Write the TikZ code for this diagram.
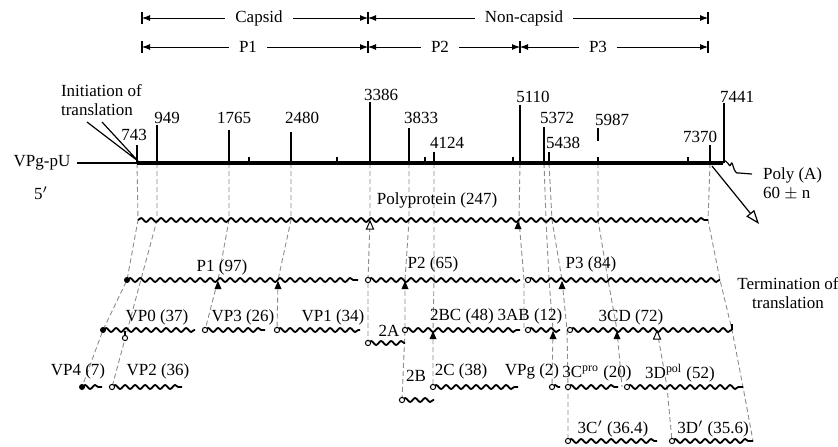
\documentclass[tikz,border=0pt]{standalone}
\usepackage{fontspec}
\setmainfont{Liberation Serif}
\usetikzlibrary{arrows.meta,decorations.pathmorphing}

\begin{document}
\begin{tikzpicture}[x=0.5pt,y=-0.5pt,
    font=\fontsize{8.5}{9.5}\selectfont,
    genoma/.style={line width=2pt},
    fino/.style={line width=0.6pt},
    prot/.style={line width=0.9pt, decorate, decoration={snake, amplitude=1pt, segment length=5pt}},
    corte/.style={black!45, line width=0.45pt, dash pattern=on 2.5pt off 1.5pt},
    cota/.style={line width=0.45pt, {Latex[length=4pt,width=3pt]}-{Latex[length=4pt,width=3pt]}},
    rotulo/.style={fill=white, inner xsep=5pt, inner ysep=1pt},
    aberto/.pic={\draw[fill=white, line width=0.5pt] (0,0) circle (1.3pt);},
    cheio/.pic={\fill (0,0) circle (1.5pt);},
    trifill/.pic={\fill (0,1) -- (-3.5,9) -- (3.5,9) -- cycle;},
    triopen/.pic={\draw[fill=white, line width=0.5pt] (0,1) -- (-3.5,9) -- (3.5,9) -- cycle;}]
  \useasboundingbox (0,0) rectangle (838,446);

  % regions on top
  \foreach \x in {142,368,708} \draw[fino] (\x,12) -- (\x,24);
  \foreach \x in {142,368,520,708} \draw[fino] (\x,41) -- (\x,53);
  \draw[cota] (142,18) -- (368,18);
  \draw[cota] (368,18) -- (708,18);
  \draw[cota] (142,47) -- (368,47);
  \draw[cota] (368,47) -- (520,47);
  \draw[cota] (520,47) -- (708,47);
  \node[rotulo] (capsid) at (259,18) {Capsid};
  \node[rotulo] (ncapsid) at (524,18) {Non-capsid};
  \node[rotulo] (p1) at (248,47) {P1};
  \node[rotulo] (p2) at (440,47) {P2};
  \node[rotulo] (p3) at (598,47) {P3};

  % cleavage guides
  \draw[corte] (137,163) -- (138,220) -- (127,280) -- (103,330) -- (82,387);
  \draw[corte] (157,163) -- (157,220) -- (112,387);
  \draw[corte] (229,163) -- (229,220) -- (218,280) -- (205,330);
  \draw[corte] (291,163) -- (291,220) -- (278,280) -- (277,330);
  \draw[corte] (370,163) -- (370,220) -- (368,280) -- (368,343);
  \draw[corte] (409,163) -- (409,220) -- (405,280) -- (405,330) -- (402,400);
  \draw[corte] (434,163) -- (434,220) -- (434,280) -- (433,330) -- (433,387);
  \draw[corte] (520,163) -- (519,220) -- (524,280) -- (524,330);
  \draw[corte] (544,163) -- (546,220) -- (549,280) -- (553,330) -- (552,387);
  \draw[corte] (549,163) -- (552,220) -- (562,280) -- (567,330) -- (568,387) -- (568,441);
  \draw[corte] (598,163) -- (598,220) -- (608,280) -- (617,330) -- (622,387);
  \draw[corte] (657,330) -- (667,387) -- (672,441);
  \draw[corte] (710,163) -- (708,220) -- (720,280) -- (732,330) -- (743,387) -- (753,441);

  % genome
  \node (vpg) at (42,163) {VPg-pU};
  \draw[fino] (vpg.east) -- (137,163);
  \draw[genoma] (137,163) -- (723,163);
  \foreach \x/\t in {137/145,157/125,229/130,291/132,370/102,409/128,434/152,520/105,544/127,549/152,710/145,724/103}
    \draw[fino] (\x,\t) -- (\x,163);
  \foreach \x in {249,337,425,513,598,688} \draw[fino] (\x,157) -- (\x,163);
  \draw[fino] (598,128) -- (598,141);
  \foreach \x/\y/\n in {134/135/743,167/118/949,234/118/1765,302/118/2480,381/95/3386,421/118/3833,447/143/4124,533/97/5110,557/118/5372,563/143/5438,612/120/5987,700/137/7370,737/97/7441}
    \node (n\n) at (\x,\y) {\n};
  \draw[fino] (723,163) .. controls (727,156) and (729,170) .. (731,164)
    .. controls (733,159) and (733,175) .. (739,173) -- (752,174);
  \node[align=left, anchor=west] (polya) at (756,184) {Poly (A)\\60 $\pm$ n};
  \node (cinco) at (41,193) {5$'$};

  % initiation and termination
  \node[align=left, anchor=west] (inicio) at (54,100) {Initiation of\\translation};
  \coordinate (i743) at (138,161);
  \draw[fino] (87,122) -- (i743) -- (102,122);
  \coordinate (t7370) at (712,166);
  \node[align=center] (termino) at (788,293) {Termination of\\translation};
  \draw[fino, -{Triangle[open,length=7pt,width=5pt]}] (t7370) -- (759,224);

  % polyprotein and precursors
  \draw[prot] (138,220) -- (708,220);
  \node (poli) at (437,200) {Polyprotein (247)};
  \draw[prot] (127,280) -- (358,280);
  \draw[prot] (368,280) -- (520,280);
  \draw[prot] (528,280) -- (720,280);
  \node (np1) at (222,267) {P1 (97)};
  \node (np2) at (433,264) {P2 (65)};
  \node (np3) at (591,264) {P3 (84)};

  % intermediate products
  \draw[prot] (103,330) -- (195,330);
  \draw[prot] (205,330) -- (265,330);
  \draw[prot] (277,330) -- (360,330);
  \draw[prot] (368,343) -- (405,343);
  \draw[prot] (405,330) -- (520,330);
  \draw[prot] (528,330) -- (560,330);
  \draw[prot] (570,330) -- (732,330);
  \draw[fino] (732,330) -- (732,324);
  \draw[fino] (125,331) -- (125,335);
  \node (vp0) at (157,317) {VP0 (37)};
  \node (vp3) at (243,317) {VP3 (26)};
  \node (vp1) at (333,317) {VP1 (34)};
  \node (n2a) at (389,331) {2A};
  \node (n2bc) at (462,316) {2BC (48)};
  \node (n3ab) at (530,316) {3AB (12)};
  \node (n3cd) at (631,317) {3CD (72)};

  % final products
  \draw[prot] (82,387) -- (102,387);
  \draw[prot] (112,387) -- (182,387);
  \draw[prot] (402,400) -- (434,400);
  \draw[prot] (433,387) -- (518,387);
  \draw[prot] (552,387) -- (560,387);
  \draw[prot] (568,387) -- (618,387);
  \draw[prot] (627,387) -- (743,387);
  \draw[prot] (568,441) -- (657,441);
  \draw[prot] (672,441) -- (753,441);
  \node (vp4) at (78,371) {VP4 (7)};
  \node (vp2) at (158,371) {VP2 (36)};
  \node (n2b) at (416,376) {2B};
  \node (n2c) at (461,371) {2C (38)};
  \node (vpgp) at (532,371) {VPg (2)};
  \node (n3c) at (597,373) {3C\textsuperscript{pro} (20)};
  \node (n3d) at (680,373) {3D\textsuperscript{pol} (52)};
  \node (n3cl) at (613,429) {3C$'$ (36.4)};
  \node (n3dl) at (713,429) {3D$'$ (35.6)};

  % cleavage marks
  \foreach \x/\y in {368/280,528/280,205/330,277/330,368/343,405/330,528/330,570/330,112/387,402/400,433/387,552/387,568/387,627/387,568/441,672/441,125/338}
    \pic at (\x,\y) {aberto};
  \foreach \x/\y in {127/280,103/330,82/387} \pic at (\x,\y) {cheio};
  \foreach \x/\y in {218/280,278/280,405/280,562/280,518/220,433/330,553/330,617/330}
    \pic at (\x,\y) {trifill};
  \foreach \x/\y in {370/220,657/330} \pic at (\x,\y) {triopen};
\end{tikzpicture}
\end{document}
